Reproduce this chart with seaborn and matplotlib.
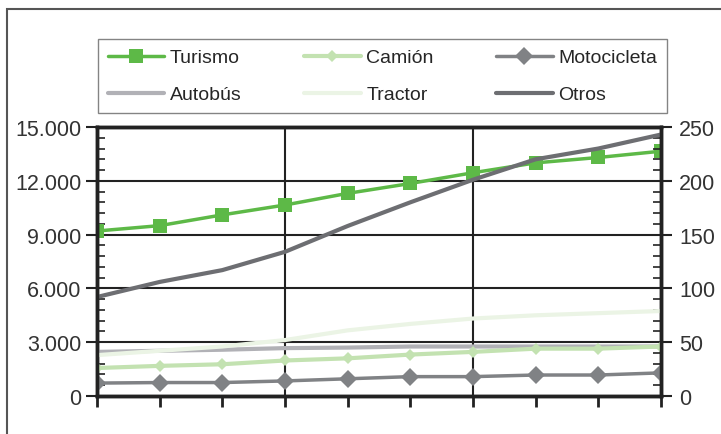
import numpy as np
import pandas as pd
import seaborn as sns
import matplotlib.pyplot as plt
from matplotlib.ticker import FuncFormatter, MultipleLocator
from matplotlib.patches import Rectangle

# datos (10 años, sin etiquetas en el eje X)
years = list(range(10))
turismo = [9200, 9500, 10100, 10650, 11300, 11850, 12450, 13000, 13300, 13650]
camion = [26, 28, 29.5, 33, 35, 38.5, 41, 44, 44, 46]
motocicleta = [12, 12.5, 12.5, 14, 16, 18, 18, 19.5, 19.5, 21.5]
autobus = [41, 42, 43, 44.5, 45, 46, 46, 46, 46, 46]
tractor = [38, 42, 46, 52, 61, 67, 72, 75, 77, 79]
otros = [92, 106, 117, 134, 158, 180, 201, 220, 230, 243]

df = pd.DataFrame({'x': years, 'Turismo': turismo, 'Camión': camion,
                   'Motocicleta': motocicleta, 'Autobús': autobus,
                   'Tractor': tractor, 'Otros': otros})

sns.set_style('white')
plt.rcParams['font.family'] = ['Liberation Sans', 'DejaVu Sans']

fig = plt.figure(figsize=(7.21, 4.35), dpi=100)
ax = fig.add_axes([97/721, 38/435, 564/721, 269/435])
ax2 = ax.twinx()

# marco exterior
fig.patches.append(Rectangle((7/721, -0.1), 1.2, 0.1 + 425/435, transform=fig.transFigure,
                             fill=False, edgecolor='#555555', linewidth=1.5))

sns.lineplot(data=df, x='x', y='Turismo', ax=ax, color='#5DB947', linewidth=2.5,
             marker='s', markersize=10, markeredgewidth=0, label='Turismo', legend=False)
sns.lineplot(data=df, x='x', y='Autobús', ax=ax2, color='#B1B1B6', linewidth=3,
             label='Autobús', legend=False)
sns.lineplot(data=df, x='x', y='Tractor', ax=ax2, color='#EBF4E5', linewidth=3,
             label='Tractor', legend=False)
sns.lineplot(data=df, x='x', y='Camión', ax=ax2, color='#C3E2B1', linewidth=3,
             marker='D', markersize=6, markeredgewidth=0, label='Camión', legend=False)
sns.lineplot(data=df, x='x', y='Motocicleta', ax=ax2, color='#808285', linewidth=2.5,
             marker='D', markersize=9, markeredgewidth=0, label='Motocicleta', legend=False)
sns.lineplot(data=df, x='x', y='Otros', ax=ax2, color='#6D6E72', linewidth=3,
             label='Otros', legend=False)

ax.set_xlim(0, 9)
ax.set_ylim(0, 15000)
ax2.set_ylim(0, 250)
ax.set_xlabel('')
ax.set_ylabel('')
ax2.set_ylabel('')

ax.set_xticks(years)
ax.set_xticklabels([])
ax.set_yticks(range(0, 15001, 3000))
ax.yaxis.set_minor_locator(MultipleLocator(600))
ax.yaxis.set_major_formatter(FuncFormatter(lambda v, p: f'{int(v):,}'.replace(',', '.')))
ax2.set_yticks(range(0, 251, 50))
ax2.yaxis.set_minor_locator(MultipleLocator(10))

# rejilla
for v in range(3000, 15000, 3000):
    ax.axhline(v, color='#222222', linewidth=1.5, zorder=0)
for v in [3, 6]:
    ax.axvline(v, color='#222222', linewidth=1.5, zorder=0)

for a in (ax, ax2):
    for s in a.spines.values():
        s.set_linewidth(2.5)
        s.set_color('#222222')
ax.tick_params(axis='x', which='major', direction='out', length=8, width=2, color='#222222', bottom=True)
ax.tick_params(axis='y', which='major', direction='out', length=8, width=1.5, color='#222222',
               left=True, labelsize=15.5, labelcolor='#333333', pad=3)
ax.tick_params(axis='y', which='minor', direction='in', length=6, width=1.2, color='#222222', left=True)
ax2.tick_params(axis='y', which='major', direction='out', length=8, width=1.5, color='#222222',
                right=True, labelsize=15.5, labelcolor='#333333', pad=5)
ax2.tick_params(axis='y', which='minor', direction='in', length=6, width=1.2, color='#222222', right=True)

h1, l1 = ax.get_legend_handles_labels()
h2, l2 = ax2.get_legend_handles_labels()
hd = dict(zip(l1 + l2, h1 + h2))
order = ['Turismo', 'Autobús', 'Camión', 'Tractor', 'Motocicleta', 'Otros']
leg = fig.legend([hd[k] for k in order], order, ncol=3, loc='upper left',
                 bbox_to_anchor=(98/721, 1 - 118/435, 569/721, 78/435),
                 bbox_transform=fig.transFigure, mode='expand', borderaxespad=0,
                 frameon=True, fancybox=False, edgecolor='#666666',
                 prop={'size': 14},
                 handlelength=2.9, handletextpad=0.3, columnspacing=3.0,
                 labelspacing=1.0, borderpad=0.5)
leg.get_frame().set_linewidth(1)

fig.savefig('out.png', dpi=100)
